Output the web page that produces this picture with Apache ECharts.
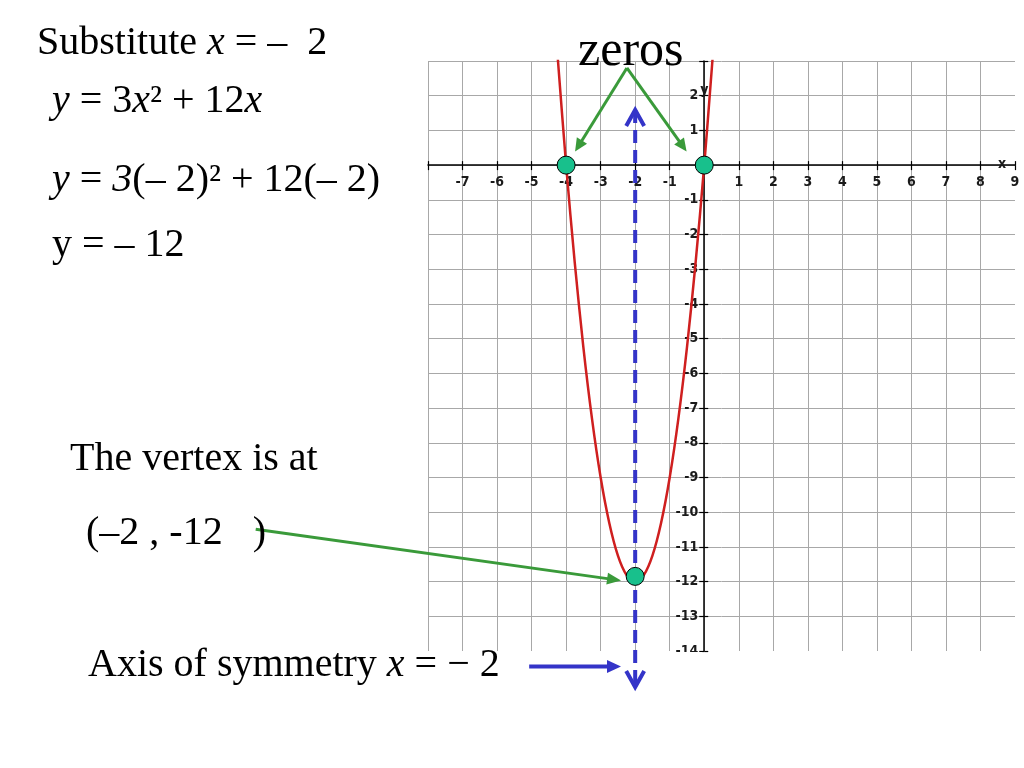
<!DOCTYPE html>
<html>
<head>
<meta charset="utf-8">
<script src="https://cdn.jsdelivr.net/npm/echarts/dist/echarts.min.js"></script>
<style>
html,body{margin:0;padding:0;background:#ffffff;}
#chart{width:1024px;height:768px;}
</style>
</head>
<body>
<div id="chart"></div>
<script>
// ---- data ----
const xTickLabels = [-7,-6,-5,-4,-3,-2,-1,1,2,3,4,5,6,7,8,9];
const yTickLabels = [2,1,-1,-2,-3,-4,-5,-6,-7,-8,-9,-10,-11,-12,-13,-14];
const curveX = [-4.25,-4,-3.75,-3.5,-3.25,-3,-2.75,-2.5,-2.25,-2,-1.75,-1.5,-1.25,-1,-0.75,-0.5,-0.25,0,0.24];
const curveY = [3.19,0,-2.81,-5.25,-7.31,-9,-10.31,-11.25,-11.81,-12,-11.81,-11.25,-10.31,-9,-7.31,-5.25,-2.81,0,3.05];
const zerosX = [-4, 0];
const zerosY = [0, 0];
const vertexX = [-2];
const vertexY = [-11.85];
const symmetryX = [-2, -2];
const symmetryY = [1.59, -15.04];

const chart = echarts.init(document.getElementById('chart'));
const gridGray = '#a8a8a8';
const tickFont = {fontFamily: '"Liberation Sans Narrow","DejaVu Sans Condensed","Liberation Sans",sans-serif', fontWeight: 'bold', fontSize: 14, color: '#1a1a1a'};
const GRID = {left: 428, right: 9, top: 61, bottom: 117};

const fmtX = v => xTickLabels.indexOf(v) >= 0 ? String(v) : '';
const fmtY = v => yTickLabels.indexOf(v) >= 0 ? String(v) : '';

function buildAxes(xOff, yOff) {
  return {
    xAxis: [
      {
        type: 'value', min: -8, max: 9, interval: 1, position: 'bottom', offset: xOff,
        axisLine: {show: true, onZero: false, lineStyle: {color: '#000', width: 1.5}},
        axisTick: {show: true, inside: false, length: 5, lineStyle: {color: '#000', width: 1.2}},
        axisLabel: Object.assign({show: true, margin: 10, formatter: fmtX, showMinLabel: true, showMaxLabel: true, hideOverlap: false}, tickFont),
        splitLine: {show: true, showMinLine: true, showMaxLine: false, lineStyle: {color: gridGray, width: 1}}
      },
      {
        type: 'value', min: -8, max: 9, interval: 1, position: 'bottom', offset: xOff,
        axisLine: {show: false, onZero: false},
        axisTick: {show: true, inside: true, length: 4, lineStyle: {color: '#000', width: 1.2}},
        axisLabel: {show: false},
        splitLine: {show: false}
      }
    ],
    yAxis: [
      {
        type: 'value', min: -14, max: 3, interval: 1, position: 'left', offset: yOff,
        axisLine: {show: true, onZero: false, lineStyle: {color: '#000', width: 1.5}},
        axisTick: {show: true, inside: false, length: 5, lineStyle: {color: '#000', width: 1.2}},
        axisLabel: Object.assign({show: true, margin: 6, formatter: fmtY, showMinLabel: true, showMaxLabel: true, hideOverlap: false}, tickFont),
        splitLine: {show: true, showMinLine: false, showMaxLine: true, lineStyle: {color: gridGray, width: 1}}
      },
      {
        type: 'value', min: -14, max: 3, interval: 1, position: 'left', offset: yOff,
        axisLine: {show: false, onZero: false},
        axisTick: {show: true, inside: true, length: 4, lineStyle: {color: '#000', width: 1.2}},
        axisLabel: {show: false},
        splitLine: {show: false}
      }
    ]
  };
}

const dotStyle = {color: '#18c08c', borderColor: '#000', borderWidth: 1, opacity: 1};
const option = Object.assign({
  animation: false,
  backgroundColor: '#ffffff',
  grid: Object.assign({outerBoundsMode: 'none', containLabel: false}, GRID),
  series: [
    {
      type: 'line', name: 'parabola',
      data: curveX.map((x, i) => [x, curveY[i]]),
      smooth: 0.3, showSymbol: false, symbol: 'none',
      lineStyle: {color: '#cf1f1f', width: 2.5},
      clip: true, z: 3
    },
    {
      type: 'line', name: 'symmetry',
      data: symmetryX.map((x, i) => [x, symmetryY[i]]),
      showSymbol: false, symbol: 'none',
      lineStyle: {color: '#3434c8', width: 4, type: [13, 7]},
      clip: false, z: 4
    },
    {
      type: 'scatter', name: 'zeros',
      data: zerosX.map((x, i) => [x, zerosY[i]]),
      symbol: 'circle', symbolSize: 18,
      itemStyle: dotStyle, z: 6
    },
    {
      type: 'scatter', name: 'vertex',
      data: vertexX.map((x, i) => [x, vertexY[i]]),
      symbol: 'circle', symbolSize: 18,
      itemStyle: dotStyle, z: 6
    }
  ]
}, buildAxes(0, 0));
chart.setOption(option);

// place both axes through the origin, using the library's own scale
const P = p => chart.convertToPixel({gridIndex: 0}, p);
const origin = P([0, 0]);
const gridBottomPx = 768 - GRID.bottom;
chart.setOption(buildAxes(-(gridBottomPx - origin[1]), -(origin[0] - GRID.left)));

// ---- annotations (texts in pixels, arrows in data space) ----
const serif = '"Liberation Serif","Times New Roman",serif';
function txt(x, y, text, size, rich) {
  const r = {};
  Object.keys(rich || {}).forEach(k => { r[k] = Object.assign({fontFamily: serif, fontSize: size, fill: '#000'}, rich[k]); });
  return {
    type: 'text', x: x, y: y, z: 120,
    style: {text: text, fontFamily: serif, fontSize: size, fill: '#000', align: 'left', verticalAlign: 'middle', rich: r}
  };
}
const it = {i: {fontStyle: 'italic'}};

function arrow(a, b, color, width, headLen, headW) {
  const p1 = P(a), p2 = P(b);
  const dx = p2[0] - p1[0], dy = p2[1] - p1[1], len = Math.hypot(dx, dy);
  const ux = dx / len, uy = dy / len;
  const bx = p2[0] - ux * headLen, by = p2[1] - uy * headLen;
  return [
    {type: 'line', z: 110, shape: {x1: p1[0], y1: p1[1], x2: bx + ux * 2, y2: by + uy * 2}, style: {stroke: color, lineWidth: width}},
    {type: 'polygon', z: 110, shape: {points: [[p2[0], p2[1]], [bx - uy * headW, by + ux * headW], [bx + uy * headW, by - ux * headW]]}, style: {fill: color}}
  ];
}
function chevron(tip, dir) {
  const t = P(tip);
  return {type: 'polyline', z: 90, shape: {points: [[t[0] - 9, t[1] - dir * 16], [t[0], t[1]], [t[0] + 9, t[1] - dir * 16]]},
    style: {stroke: '#3434c8', lineWidth: 4, fill: null}};
}

const green = '#3a9a3a';
const blue = '#3434c8';
let graphics = [
  txt(37, 43, 'Substitute {i|x} = –  2', 40, it),
  txt(52, 101, '{i|y} = 3{i|x}² + 12{i|x}', 40, it),
  txt(52, 180, '{i|y} = {i|3}(– 2)² + 12(– 2)', 40, it),
  txt(52, 245, 'y = – 12', 40, it),
  txt(70, 459, 'The vertex is at', 40, it),
  txt(86, 533, '(–2 , -12   )', 40, it),
  txt(88, 665, 'Axis of symmetry {i|x} = − 2', 40, it),
  txt(578, 52, 'zeros', 50, it),
  {type: 'text', x: origin[0], y: 90, z: 120, style: {text: 'y', fontFamily: tickFont.fontFamily, fontWeight: 'bold', fontSize: 14, fill: '#1a1a1a', align: 'center', verticalAlign: 'middle'}},
  {type: 'text', x: 1002, y: origin[1] - 1, z: 120, style: {text: 'x', fontFamily: tickFont.fontFamily, fontWeight: 'bold', fontSize: 14, fill: '#1a1a1a', align: 'center', verticalAlign: 'middle'}},
  // the graph image is cut at its lower edge: hide the lower half of the last label
  {type: 'rect', z: 100, shape: {x: origin[0] - 45, y: gridBottomPx + 1, width: 43, height: 12}, style: {fill: '#ffffff'}},
  chevron([symmetryX[0], symmetryY[0]], -1),
  chevron([symmetryX[1], symmetryY[1]], 1)
];
graphics = graphics
  .concat(arrow([-2.24, 2.80], [-3.74, 0.39], green, 3, 13, 6))
  .concat(arrow([-2.24, 2.80], [-0.51, 0.39], green, 3, 13, 6))
  .concat(arrow([-12.99, -10.49], [-2.41, -11.97], green, 3, 14, 6))
  .concat(arrow([-5.07, -14.45], [-2.41, -14.45], blue, 4, 14, 6.5));

chart.setOption({graphic: graphics});
</script>
</body>
</html>
